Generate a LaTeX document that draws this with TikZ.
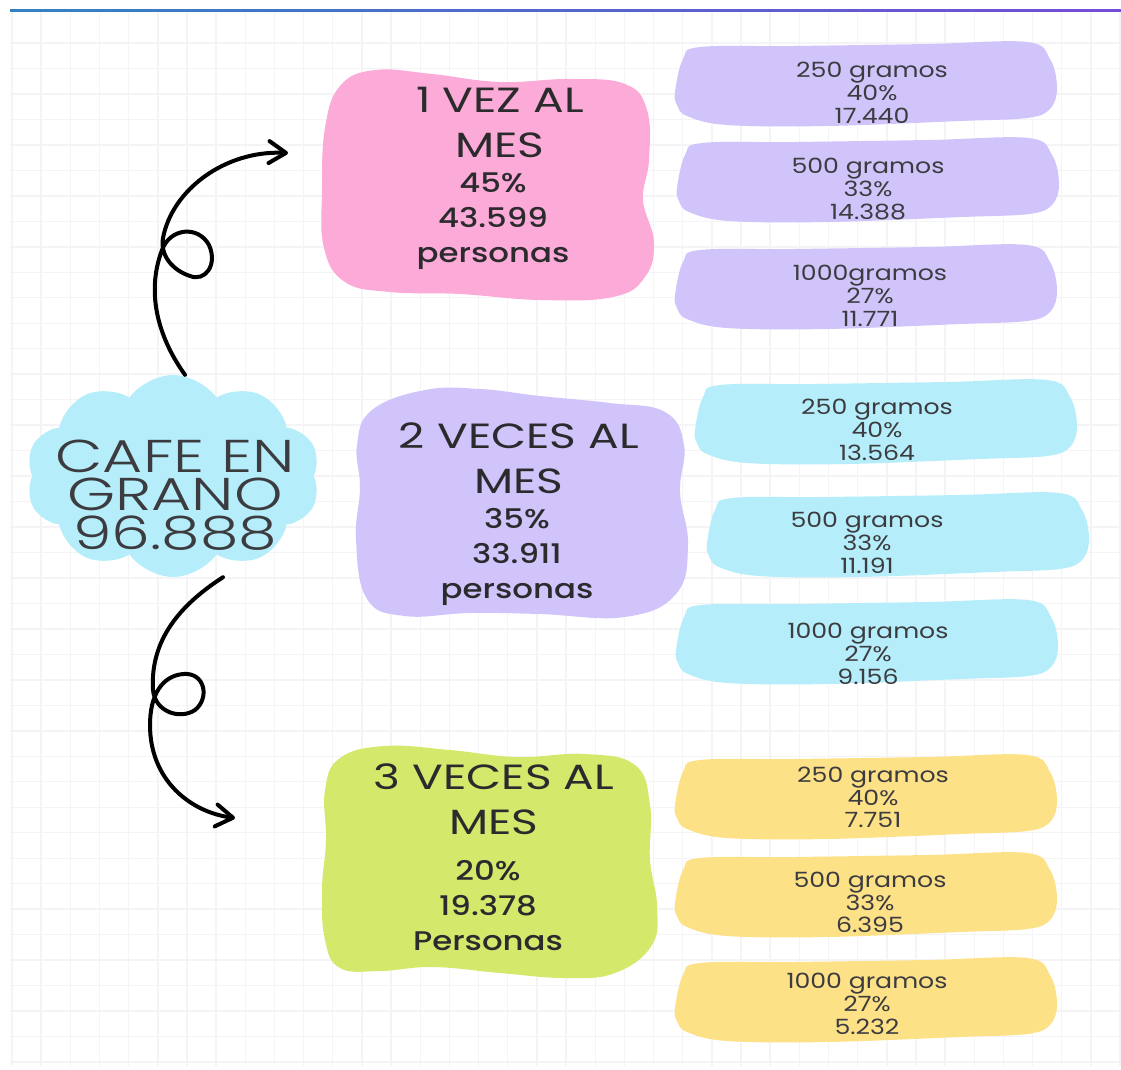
\documentclass[tikz,border=0pt]{standalone}
\usepackage{fontspec}
\setmainfont{Poppins}[FakeStretch=1.2]
\newfontfamily\medfont{Poppins Medium}[FakeStretch=1.2]
\newfontfamily\headfont{Poppins}[FakeStretch=1.3]
\newfontfamily\cloudfont{Poppins Light}[FakeStretch=1.34]
\usepackage{tikz}
\usetikzlibrary{positioning,arrows.meta,shapes.symbols}
\definecolor{pink1}{HTML}{FCAAD8}
\definecolor{lila1}{HTML}{D1C4FB}
\definecolor{cyan1}{HTML}{B5EEFA}
\definecolor{lime1}{HTML}{D4E96B}
\definecolor{sun1}{HTML}{FDE187}
\definecolor{ink1}{HTML}{2B2B2E}
\definecolor{ink2}{HTML}{3C3C40}
\definecolor{grid1}{HTML}{F4F4F6}

% brush stroke behind the small boxes: colour, left, top
\newcommand{\brushfill}[3]{%
  \fill[#1, shift={(#2,#3)}] plot[smooth cycle, tension=0.6] coordinates
    {(2,50) (10,17) (27,5) (120,4) (254,2) (354,0) (377,17) (384,46)
     (377,67) (354,76) (287,79) (154,84) (54,83) (14,74) (4,63)};}

\begin{document}
\begin{tikzpicture}[
    x=1pt, y=-1pt,
    gridline/.style={draw=grid1, line width=1.4pt},
    curl/.style={line width=4pt, line cap=round,
                 -{Straight Barb[length=17pt,width=22pt,round]}},
    cloudtxt/.style={font=\cloudfont\fontsize{46}{38.5}\selectfont, text=ink2,
                     align=center, inner sep=0pt},
    titletxt/.style={font=\headfont\fontsize{35}{45.5}\selectfont, text=ink1,
                     align=center, inner sep=0pt},
    figtxt/.style={font=\medfont\fontsize{27}{35}\selectfont, text=ink1,
                   align=center, inner sep=0pt},
    smalltxt/.style={font=\fontsize{21}{22.8}\selectfont, text=ink2,
                     align=center, inner sep=0pt},
]
\fill[white] (0,0) rectangle (1121,1069);
\useasboundingbox (0,0) rectangle (1121,1069);

% grid paper
\foreach \i in {0,...,38}
  \draw[gridline] ({12+\i*29.16},10) -- ({12+\i*29.16},1066);
\foreach \j in {0,...,40}
  \draw[gridline] (10,{43+\j*25.475}) -- (1121,{43+\j*25.475});
\shade[left color=blue!45!cyan!70!black!80, right color=blue!55!violet!70]
  (10,9) rectangle (1121,11);

% cloud
\node[cloud, cloud puffs=10, cloud puff arc=110, aspect=1.45, fill=cyan1,
      minimum width=294pt, minimum height=202pt, inner sep=0pt] (nube) at (173,476) {};
\node[cloudtxt] (cafe) at (175,495) {CAFE EN\\GRANO\\96.888};

% main blobs
\fill[pink1] plot[smooth cycle, tension=0.7] coordinates
  {(322,190) (325,128) (340,86) (375,70) (432,74) (500,82) (570,79) (625,84)
   (647,110) (649,160) (643,200) (654,242) (645,277) (613,297) (540,300)
   (460,294) (390,292) (345,282) (324,248)};
\fill[lila1] plot[smooth cycle, tension=0.7] coordinates
  {(357,445) (372,410) (425,390) (480,389) (540,396) (610,403) (665,412)
   (684,445) (680,492) (688,545) (676,594) (625,617) (540,614) (470,613)
   (405,616) (367,599) (356,540) (360,488)};
\fill[lime1] plot[smooth cycle, tension=0.7] coordinates
  {(325,790) (340,758) (385,746) (450,750) (517,757) (585,754) (635,765)
   (650,805) (650,860) (657,905) (652,945) (615,973) (565,978) (500,973)
   (433,967) (380,971) (340,968) (325,940) (322,890) (326,840)};

\node[titletxt] (vez1) at (500,122.5) {1 VEZ AL\\MES};
\node[figtxt] (fig1) at (493,221.5) {45\%\\43.599\\personas};
\node[titletxt] (vez2) at (519,458) {2 VECES AL\\MES};
\node[figtxt] (fig2) at (517,557) {35\%\\33.911\\personas};
\node[titletxt] (vez3) at (494,799) {3 VECES AL\\MES};
\node[figtxt] (fig3) at (488,906) {20\%\\19.378\\Personas};

% small boxes
\brushfill{lila1}{673}{42}
\brushfill{lila1}{675}{138}
\brushfill{lila1}{673}{245}
\brushfill{cyan1}{693}{380}
\brushfill{cyan1}{705}{493}
\brushfill{cyan1}{674}{600}
\brushfill{sun1}{673}{755}
\brushfill{sun1}{673}{853}
\brushfill{sun1}{673}{958}

\node[smalltxt] (p250) at (872,93) {250 gramos\\40\%\\17.440};
\node[smalltxt] (p500) at (868,189) {500 gramos\\33\%\\14.388};
\node[smalltxt] (p1000) at (870,296) {1000gramos\\27\%\\11.771};
\node[smalltxt] (c250) at (877,430) {250 gramos\\40\%\\13.564};
\node[smalltxt] (c500) at (867,543) {500 gramos\\33\%\\11.191};
\node[smalltxt] (c1000) at (868,654) {1000 gramos\\27\%\\9.156};
\node[smalltxt] (y250) at (873,797.5) {250 gramos\\40\%\\7.751};
\node[smalltxt] (y500) at (870,902.5) {500 gramos\\33\%\\6.395};
\node[smalltxt] (y1000) at (867,1004) {1000 gramos\\27\%\\5.232};

% curly arrows
\coordinate (tip1) at (288,153);
\coordinate (tip3) at (235,818);
\draw[curl] ([xshift=12pt]nube.north) .. controls (160,340) and (145,295) .. (162,250)
  .. controls (170,228) and (198,225) .. (209,245)
  .. controls (218,265) and (205,282) .. (190,276)
  .. controls (172,270) and (160,255) .. (163,238)
  .. controls (172,190) and (225,150) .. (tip1);
\draw[curl] ([xshift=50pt]nube.south) .. controls (180,605) and (150,640) .. (153,690)
  .. controls (155,712) and (180,720) .. (195,710)
  .. controls (210,698) and (205,672) .. (183,674)
  .. controls (162,676) and (150,695) .. (150,725)
  .. controls (150,780) and (190,812) .. (tip3);
\end{tikzpicture}
\end{document}
